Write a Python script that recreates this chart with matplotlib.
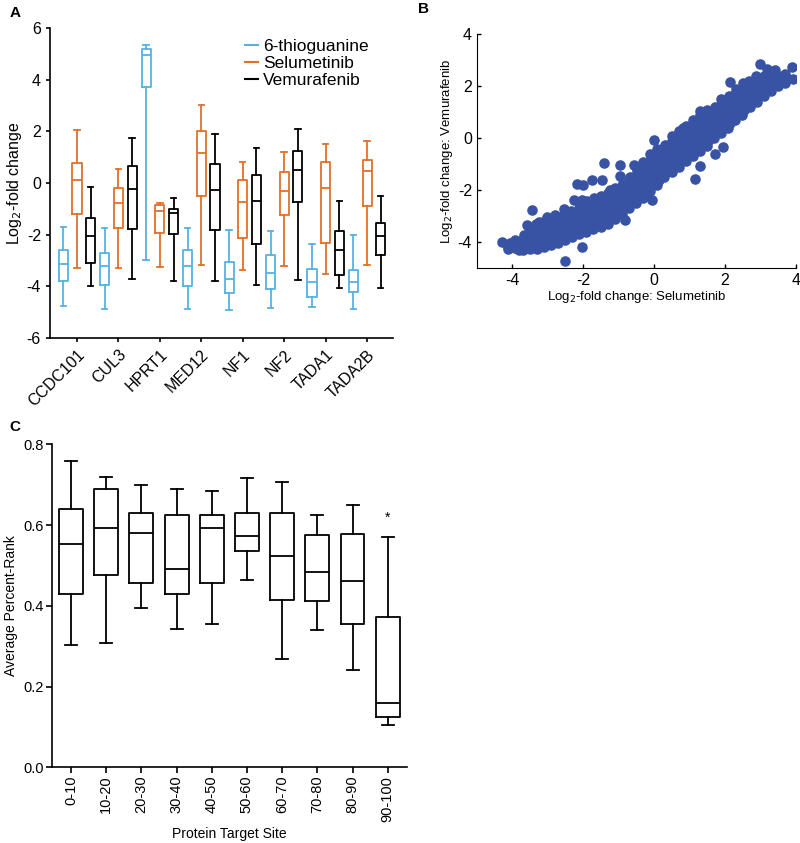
import numpy as np
import matplotlib.pyplot as plt
from matplotlib.lines import Line2D

plt.rcParams['font.family'] = ['Liberation Sans', 'DejaVu Sans']
plt.rcParams['axes.unicode_minus'] = False

# ---------------- Panel A data: box stats per gene ----------------
genes = ['CCDC101', 'CUL3', 'HPRT1', 'MED12', 'NF1', 'NF2', 'TADA1', 'TADA2B']

tg_hi = [-1.70, -1.74, 5.33, -1.73, -1.83, -1.86, -2.35, -2.03]
tg_q3 = [-2.58, -2.70, 5.20, -2.58, -3.06, -2.77, -3.32, -3.35]
tg_med = [-3.12, -3.22, 4.94, -3.23, -3.73, -3.48, -3.83, -3.83]
tg_q1 = [-3.79, -3.95, 3.72, -4.00, -4.27, -4.10, -4.40, -4.20]
tg_lo = [-4.76, -4.87, -2.99, -4.87, -4.91, -4.84, -4.78, -4.88]

sel_hi = [2.04, 0.55, -0.76, 3.03, 0.80, 1.20, 1.52, 1.63]
sel_q3 = [0.77, -0.19, -0.86, 2.01, 0.10, 0.43, 0.81, 0.88]
sel_med = [0.13, -0.76, -1.08, 1.16, -0.74, -0.31, -0.18, 0.45]
sel_q1 = [-1.21, -1.74, -1.94, -0.50, -2.12, -1.24, -2.31, -0.90]
sel_lo = [-3.29, -3.29, -3.25, -3.16, -3.35, -3.21, -3.51, -3.19]

vem_hi = [-0.15, 1.75, -0.57, 1.88, 1.37, 2.10, -0.70, -0.52]
vem_q3 = [-1.34, 0.65, -0.99, 0.75, 0.32, 1.24, -1.86, -1.55]
vem_med = [-2.06, -0.25, -1.15, -0.26, -0.70, 0.49, -2.61, -2.06]
vem_q1 = [-3.08, -1.77, -1.99, -1.83, -2.35, -0.75, -3.57, -2.77]
vem_lo = [-4.00, -3.73, -3.81, -3.81, -3.96, -3.77, -4.06, -4.06]

# ---------------- Panel B data: per-gene log2 fold change ----------------
sel_fc = [
    -4.11, -4.07,
    -3.91, -3.87, -3.92,
    -3.71, -3.67, -3.72, -3.68,
    -3.51, -3.47, -3.52, -3.48, -3.50,
    -3.31, -3.27, -3.32, -3.28, -3.30, -3.33,
    -3.11, -3.07, -3.12, -3.08, -3.10, -3.13,
    -2.91, -2.87, -2.92, -2.88, -2.90, -2.93,
    -2.71, -2.67, -2.72, -2.68, -2.70,
    -2.51, -2.47, -2.52, -2.48, -2.50, -2.53,
    -2.31, -2.27, -2.32, -2.28, -2.30, -2.33,
    -2.11, -2.07, -2.12, -2.08, -2.10, -2.13, -2.09,
    -1.91, -1.87, -1.92, -1.88, -1.90, -1.93, -1.89,
    -1.71, -1.67, -1.72, -1.68, -1.70, -1.73, -1.69,
    -1.51, -1.47, -1.52, -1.48, -1.50, -1.53, -1.49,
    -1.31, -1.27, -1.32, -1.28, -1.30, -1.33, -1.29,
    -1.11, -1.07, -1.12, -1.08, -1.10, -1.13, -1.09,
    -0.91, -0.87, -0.92, -0.88, -0.90, -0.93, -0.89,
    -0.71, -0.67, -0.72, -0.68, -0.70, -0.73, -0.69,
    -0.51, -0.47, -0.52, -0.48, -0.50, -0.53, -0.49, -0.51,
    -0.31, -0.27, -0.32, -0.28, -0.30, -0.33, -0.29, -0.31,
    -0.11, -0.07, -0.12, -0.08, -0.10, -0.13, -0.09, -0.11,
    0.09, 0.13, 0.08, 0.12, 0.10, 0.07, 0.11, 0.09,
    0.29, 0.33, 0.28, 0.32, 0.30, 0.27, 0.31,
    0.49, 0.53, 0.48, 0.52, 0.50, 0.47, 0.51, 0.49,
    0.69, 0.73, 0.68, 0.72, 0.70, 0.67, 0.71, 0.69,
    0.89, 0.93, 0.88, 0.92, 0.90, 0.87, 0.91, 0.89,
    1.09, 1.13, 1.08, 1.12, 1.10, 1.07, 1.11, 1.09,
    1.29, 1.33, 1.28, 1.32, 1.30, 1.27, 1.31, 1.29,
    1.49, 1.53, 1.48, 1.52, 1.50, 1.47, 1.51, 1.49,
    1.69, 1.73, 1.68, 1.72, 1.70, 1.67, 1.71,
    1.89, 1.93, 1.88, 1.92, 1.90, 1.87, 1.91,
    2.09, 2.13, 2.08, 2.12, 2.10, 2.07, 2.11,
    2.29, 2.33, 2.28, 2.32, 2.30, 2.27, 2.31,
    2.49, 2.53, 2.48, 2.52, 2.50, 2.47, 2.51,
    2.69, 2.73, 2.68, 2.72, 2.70, 2.67,
    2.89, 2.93, 2.88, 2.92, 2.90, 2.87,
    3.09, 3.13, 3.08, 3.12, 3.10,
    3.29, 3.33, 3.28, 3.32,
    3.49, 3.53, 3.48,
    3.69, 3.73,
    # scattered points off the main band
    -4.29, -4.12, -3.96, -3.82, -3.45, -3.45, -3.59, -3.26, -3.02, -2.79,
    -2.55, -2.51, -2.18, -2.00, -2.04, -2.27, -2.04, -1.76, -1.46, -1.41,
    -0.96, -1.24, -0.96, -0.58, -0.82, -0.07, 0.00, 0.31, 0.57, 0.81,
    1.15, 1.30, 1.30, 1.53, 1.72, 1.95, 1.88, 2.14, 2.99, 3.17,
    3.41, 3.69, 3.88, 3.92, 3.64,
]
vem_fc = [
    -4.18, -4.02,
    -4.24, -4.06, -3.92,
    -4.30, -4.12, -3.93, -3.72,
    -4.28, -4.10, -3.90, -3.70, -3.52,
    -4.25, -4.05, -3.86, -3.66, -3.47, -3.30,
    -4.20, -4.01, -3.81, -3.60, -3.41, -3.22,
    -4.12, -3.92, -3.71, -3.52, -3.33, -3.15,
    -4.02, -3.81, -3.60, -3.41, -3.22,
    -3.91, -3.70, -3.51, -3.30, -3.10, -2.92,
    -3.82, -3.61, -3.40, -3.21, -3.02, -2.81,
    -3.70, -3.50, -3.31, -3.10, -2.91, -2.70, -2.52,
    -3.60, -3.41, -3.20, -3.01, -2.80, -2.61, -2.42,
    -3.50, -3.30, -3.11, -2.90, -2.71, -2.50, -2.31,
    -3.41, -3.20, -3.01, -2.80, -2.61, -2.40, -2.21,
    -3.30, -3.10, -2.91, -2.70, -2.51, -2.30, -2.12,
    -3.10, -2.91, -2.70, -2.51, -2.30, -2.11, -1.92,
    -2.91, -2.70, -2.51, -2.30, -2.11, -1.90, -1.71,
    -2.70, -2.51, -2.30, -2.11, -1.90, -1.71, -1.50,
    -2.50, -2.31, -2.10, -1.91, -1.70, -1.51, -1.30, -1.12,
    -2.30, -2.11, -1.90, -1.71, -1.50, -1.31, -1.10, -0.92,
    -2.02, -1.81, -1.60, -1.41, -1.20, -1.01, -0.80, -0.62,
    -1.80, -1.61, -1.40, -1.21, -1.00, -0.81, -0.60, -0.42,
    -1.50, -1.31, -1.10, -0.91, -0.70, -0.51, -0.32,
    -1.30, -1.11, -0.90, -0.71, -0.50, -0.31, -0.10, 0.08,
    -1.10, -0.91, -0.70, -0.51, -0.30, -0.11, 0.10, 0.28,
    -0.90, -0.71, -0.50, -0.31, -0.10, 0.09, 0.30, 0.48,
    -0.70, -0.51, -0.30, -0.11, 0.10, 0.29, 0.50, 0.68,
    -0.50, -0.31, -0.10, 0.09, 0.30, 0.49, 0.70, 0.88,
    -0.30, -0.11, 0.10, 0.29, 0.50, 0.69, 0.90, 1.08,
    0.00, 0.19, 0.40, 0.59, 0.80, 0.99, 1.20,
    0.20, 0.39, 0.60, 0.79, 1.00, 1.19, 1.40,
    0.40, 0.59, 0.80, 0.99, 1.20, 1.39, 1.60,
    0.70, 0.89, 1.10, 1.29, 1.50, 1.69, 1.90,
    0.90, 1.09, 1.30, 1.49, 1.70, 1.89, 2.10,
    1.20, 1.39, 1.60, 1.79, 2.00, 2.19,
    1.40, 1.59, 1.80, 1.99, 2.20, 2.39,
    1.60, 1.79, 2.00, 2.19, 2.40,
    1.80, 1.99, 2.20, 2.39,
    2.00, 2.19, 2.40,
    2.10, 2.30,
    # scattered points off the main band
    -4.00, -4.26, -4.13, -4.32, -2.78, -3.55, -3.36, -3.23, -3.04, -2.97,
    -2.72, -4.71, -1.76, -1.80, -4.19, -2.40, -2.40, -1.63, -1.63, -0.96,
    -1.03, -2.01, -1.44, -1.05, -3.17, -2.40, -0.09, -0.28, 0.04, 0.38,
    -1.56, -1.08, 1.06, 0.72, -0.60, -0.35, 1.49, 2.15, 2.86, 2.67,
    2.60, 2.47, 2.73, 2.26, 2.35,
]

# ---------------- Panel C data ----------------
sites = ['0-10', '10-20', '20-30', '30-40', '40-50',
         '50-60', '60-70', '70-80', '80-90', '90-100']
c_hi = [0.759, 0.719, 0.699, 0.689, 0.684, 0.717, 0.707, 0.626, 0.649, 0.571]
c_q3 = [0.639, 0.690, 0.629, 0.626, 0.626, 0.630, 0.630, 0.575, 0.577, 0.373]
c_med = [0.554, 0.592, 0.580, 0.491, 0.593, 0.572, 0.523, 0.483, 0.462, 0.160]
c_q1 = [0.429, 0.477, 0.456, 0.429, 0.456, 0.535, 0.415, 0.412, 0.355, 0.124]
c_lo = [0.302, 0.308, 0.394, 0.343, 0.355, 0.464, 0.268, 0.339, 0.242, 0.105]


def box_stats(lo, q1, med, q3, hi):
    return [dict(whislo=a, q1=b, med=c, q3=d, whishi=e, fliers=[])
            for a, b, c, d, e in zip(lo, q1, med, q3, hi)]


def style(color, lw):
    p = dict(color=color, linewidth=lw)
    return dict(boxprops=p, whiskerprops=p, capprops=p, medianprops=p)


fig = plt.figure(figsize=(8, 8.43), dpi=100)

# ---------------- A ----------------
axA = fig.add_axes([0.0625, 0.599, 0.429, 0.368])
pos = np.arange(1, len(genes) + 1)
blue, orange, black = '#56B2E3', '#E0712A', 'black'
for stats, off, col in [(box_stats(tg_lo, tg_q1, tg_med, tg_q3, tg_hi), -0.33, blue),
                        (box_stats(sel_lo, sel_q1, sel_med, sel_q3, sel_hi), 0.0, orange),
                        (box_stats(vem_lo, vem_q1, vem_med, vem_q3, vem_hi), 0.33, black)]:
    axA.bxp(stats, positions=pos + off, widths=0.22, capwidths=0.13,
            showfliers=False, manage_ticks=False, **style(col, 1.3))
axA.set_xlim(0.35, 8.63)
axA.set_ylim(-6, 6)
axA.set_yticks(np.arange(-6, 7, 2))
axA.set_xticks(pos)
axA.set_xticklabels(genes, rotation=45, ha='right', rotation_mode='anchor')
axA.tick_params(labelsize=11.5, width=1.2, length=3)
axA.set_ylabel('Log$_2$-fold change', fontsize=11.5, labelpad=2)
for s in ['top', 'right']:
    axA.spines[s].set_visible(False)
for s in ['left', 'bottom']:
    axA.spines[s].set_linewidth(1.2)
handles = [Line2D([], [], color=c, lw=1.5) for c in (blue, orange, black)]
axA.legend(handles, ['6-thioguanine', 'Selumetinib', 'Vemurafenib'],
           loc='upper right', bbox_to_anchor=(0.975, 1.015), frameon=False,
           fontsize=12.5, handlelength=0.75, handletextpad=0.3, labelspacing=0.1)

# ---------------- B ----------------
axB = fig.add_axes([0.596, 0.682, 0.399, 0.2776])
axB.scatter(sel_fc, vem_fc, s=58, color='#3953A4', linewidths=0)
axB.set_xlim(-5, 4)
axB.set_ylim(-5, 4)
axB.set_xticks([-4, -2, 0, 2, 4])
axB.set_yticks([-4, -2, 0, 2, 4])
axB.tick_params(direction='in', labelsize=11.5, width=1.0, length=3)
axB.set_xlabel('Log$_2$-fold change: Selumetinib', fontsize=9.5, labelpad=1)
axB.set_ylabel('Log$_2$-fold change: Vemurafenib', fontsize=9.5, labelpad=2)
for s in ['top', 'right']:
    axB.spines[s].set_visible(False)

# ---------------- C ----------------
axC = fig.add_axes([0.0654, 0.0898, 0.443, 0.383])
cpos = np.arange(1, len(sites) + 1)
axC.bxp(box_stats(c_lo, c_q1, c_med, c_q3, c_hi), positions=cpos, widths=0.68,
        capwidths=0.34, showfliers=False, manage_ticks=False, **style('black', 1.3))
axC.text(cpos[-1], c_hi[-1] + 0.03, '*', ha='center', va='bottom', fontsize=10)
axC.set_xlim(0.47, 10.54)
axC.set_ylim(0, 0.8)
axC.set_yticks([0.0, 0.2, 0.4, 0.6, 0.8])
axC.set_yticklabels(['0.0', '0.2', '0.4', '0.6', '0.8'])
axC.set_xticks(cpos)
axC.set_xticklabels(sites, rotation=90)
axC.tick_params(labelsize=10.5, width=1.2, length=4, pad=2)
axC.set_xlabel('Protein Target Site', fontsize=10)
axC.set_ylabel('Average Percent-Rank', fontsize=10)
for s in ['top', 'right']:
    axC.spines[s].set_visible(False)
for s in ['left', 'bottom']:
    axC.spines[s].set_linewidth(1.2)

# panel letters
fig.text(0.012, 0.984, 'A', fontsize=11, fontweight='bold', va='center')
fig.text(0.523, 0.989, 'B', fontsize=11, fontweight='bold', va='center')
fig.text(0.012, 0.493, 'C', fontsize=11, fontweight='bold', va='center')

fig.savefig('out.png', dpi=100)
